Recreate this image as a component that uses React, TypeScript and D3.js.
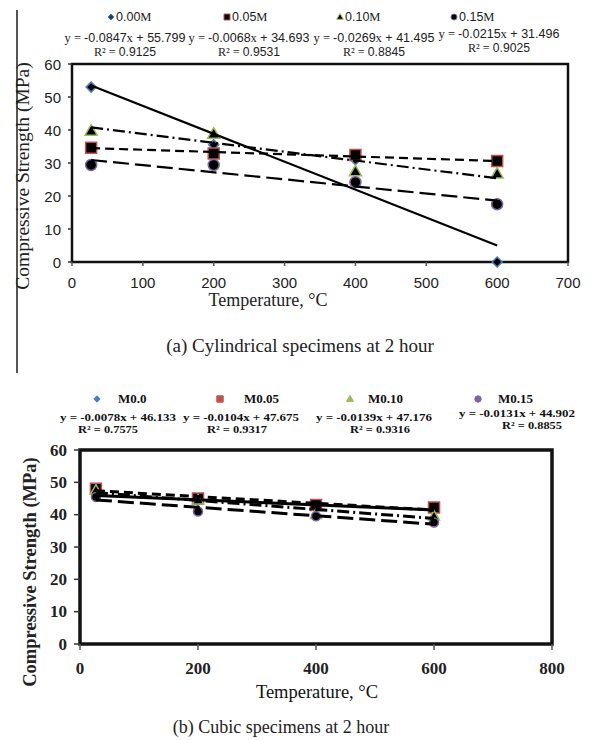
import React from "react";
import * as d3 from "d3";

// ---------- DATA ----------
const temps = [27, 200, 400, 600];

// (a) cylindrical
const topLabels = ["0.00M", "0.05M", "0.10M", "0.15M"];
const top000 = [53, 35.5, 31, 0];
const top005 = [34.6, 32.9, 32.4, 30.6];
const top010 = [39.7, 38.8, 27.4, 26.7];
const top015 = [29.4, 29.4, 24.2, 17.5];
const topSlopes = [-0.0847, -0.0068, -0.0269, -0.0215];
const topIntercepts = [55.799, 34.693, 41.495, 31.496];
const topR2 = ["0.9125", "0.9531", "0.8845", "0.9025"];
const topXTicks = [0, 100, 200, 300, 400, 500, 600, 700];
const topYTicks = [0, 10, 20, 30, 40, 50, 60];

// (b) cubic
const botLabels = ["M0.0", "M0.05", "M0.10", "M0.15"];
const bot000 = [46, 44, 42.5, 42.5];
const bot005 = [48, 45, 43, 42.2];
const bot010 = [47.5, 44.5, 40, 39.5];
const bot015 = [45.5, 41, 39.5, 37.6];
const botSlopes = [-0.0078, -0.0104, -0.0139, -0.0131];
const botIntercepts = [46.133, 47.675, 47.176, 44.902];
const botR2 = ["0.7575", "0.9317", "0.9316", "0.8855"];
const botXTicks = [0, 200, 400, 600, 800];
const botYTicks = [0, 10, 20, 30, 40, 50, 60];

const SANS = "'Liberation Sans', Arial, sans-serif";
const SERIF = "'Liberation Serif', 'Times New Roman', serif";

const markerTypes = ["diamond", "square", "triangle", "circle"];
const markerColors = ["#4a7ebb", "#c0504d", "#9bbb59", "#8064a2"];
const dashes = ["none", "9,5", "12,4,2,4", "16,6"];

function markerPath(type: string, s: number): string {
  const p = d3.path();
  if (type === "diamond") {
    p.moveTo(0, -s); p.lineTo(s, 0); p.lineTo(0, s); p.lineTo(-s, 0); p.closePath();
  } else if (type === "square") {
    p.rect(-s, -s, 2 * s, 2 * s);
  } else if (type === "triangle") {
    const h = s * 1.9;
    p.moveTo(0, -h * 0.6); p.lineTo(s * 1.1, h * 0.4); p.lineTo(-s * 1.1, h * 0.4); p.closePath();
  } else {
    p.arc(0, 0, s, 0, Math.PI * 2);
  }
  return p.toString();
}

type PanelProps = {
  series: number[][];
  slopes: number[];
  intercepts: number[];
  xTicks: number[];
  yTicks: number[];
  box: { l: number; r: number; t: number; b: number };
  xMax: number;
  bottom: boolean;
};

function Panel({ series, slopes, intercepts, xTicks, yTicks, box, xMax, bottom }: PanelProps) {
  const x = d3.scaleLinear().domain([0, xMax]).range([box.l, box.r]);
  const y = d3.scaleLinear().domain([0, 60]).range([box.b, box.t]);
  const tickFont = bottom ? SERIF : SANS;
  const tickSize = bottom ? 17 : 15;
  const msz = bottom ? [4, 5.5, 5, 4.5] : [5, 5.5, 5.5, 5.5];
  const lw = bottom ? 3 : 2.2;
  return (
    <g>
      <rect x={box.l} y={box.t} width={box.r - box.l} height={box.b - box.t} fill="none" stroke="#111" strokeWidth={bottom ? 3.5 : 2.5} />
      {yTicks.map((v) => (
        <g key={"y" + v}>
          <line x1={box.l - (bottom ? 6 : 4)} x2={box.l} y1={y(v)} y2={y(v)} stroke="#333" strokeWidth={1.5} />
          <text x={box.l - (bottom ? 13 : 11)} y={y(v) + 5.5} textAnchor="end" fontFamily={tickFont} fontSize={tickSize} fontWeight={bottom ? "bold" : "normal"} fill="#222">
            {v}
          </text>
        </g>
      ))}
      {xTicks.map((v) => (
        <g key={"x" + v}>
          <line x1={x(v)} x2={x(v)} y1={box.b} y2={box.b + (bottom ? 6 : 4)} stroke="#555" strokeWidth={1.5} />
          <text x={x(v)} y={box.b + (bottom ? 30 : 26)} textAnchor="middle" fontFamily={tickFont} fontSize={tickSize} fontWeight={bottom ? "bold" : "normal"} fill="#222">
            {v}
          </text>
        </g>
      ))}
      {series.map((vals, si) =>
        vals.map((v, i) => (
          <path
            key={"m" + si + "-" + i}
            d={markerPath(markerTypes[si], msz[si])}
            transform={`translate(${x(temps[i])},${y(v)})`}
            fill="#000"
            stroke={markerColors[si]}
            strokeWidth={1.5}
          />
        ))
      )}
      {slopes.map((s, si) => {
        const x0 = temps[0];
        const x1 = temps[temps.length - 1];
        return (
          <line
            key={"t" + si}
            x1={x(x0)}
            x2={x(x1)}
            y1={y(intercepts[si] + s * x0)}
            y2={y(intercepts[si] + s * x1)}
            stroke="#000"
            strokeWidth={lw}
            strokeDasharray={dashes[si]}
          />
        );
      })}
    </g>
  );
}

function fmt(v: number) {
  return v.toString();
}

export default function App() {
  const topSeries = [top000, top005, top010, top015];
  const botSeries = [bot000, bot005, bot010, bot015];

  const topLegendX = [111, 227, 340, 454];
  const topEqX = [125, 249, 374, 499];
  const topEqY = [42, 42, 42, 38];

  const botLegendX = [97, 220, 350, 478];
  const botLegendTextX = [118, 244, 368, 498];
  const botEqX = [118, 241, 374, 517];
  const botR2X = [108, 237, 380, 532];
  const botEqY = [421, 421, 421, 417];

  return (
    <svg width={590} height={740} style={{ position: "absolute", left: 0, top: 0, background: "#fff" }}>
      <rect x={0} y={0} width={590} height={740} fill="#fff" />
      <line x1={17} x2={17} y1={10} y2={373} stroke="#555" strokeWidth={2} />

      {/* top legend */}
      {topLabels.map((lab, i) => (
        <g key={"tl" + i}>
          <path d={markerPath(markerTypes[i], 3)} transform={`translate(${topLegendX[i]},17)`} fill={i === 0 ? "#1f3f6f" : "#000"} stroke={markerColors[i]} strokeWidth={1} />
          <text x={topLegendX[i] + 5} y={21} fontFamily={SANS} fontSize={12.5} fill="#222">
            {lab.slice(0, -1)}
            <tspan fontFamily={SERIF}>M</tspan>
          </text>
        </g>
      ))}
      {/* top equations */}
      {topSlopes.map((s, i) => (
        <g key={"te" + i}>
          <text x={topEqX[i]} y={topEqY[i]} textAnchor="middle" fontFamily={SANS} fontSize={12} fill="#222" textLength={121} lengthAdjust="spacingAndGlyphs">
            <tspan fontFamily={SERIF}>y = </tspan>
            {fmt(s)}
            <tspan fontFamily={SERIF}>x</tspan>
            {" + " + fmt(topIntercepts[i])}
          </text>
          <text x={topEqX[i]} y={topEqY[i] + 13.5} textAnchor="middle" fontFamily={SANS} fontSize={12} fill="#222" textLength={62} lengthAdjust="spacingAndGlyphs">
            <tspan fontFamily={SERIF}>R² = </tspan>
            {topR2[i]}
          </text>
        </g>
      ))}

      <Panel series={topSeries} slopes={topSlopes} intercepts={topIntercepts} xTicks={topXTicks} yTicks={topYTicks} box={{ l: 72, r: 568, t: 64, b: 262 }} xMax={700} bottom={false} />

      <text transform="translate(29,176) rotate(-90)" textAnchor="middle" fontFamily={SERIF} fontSize={19.5} fill="#222">
        Compressive Strength (MPa)
      </text>
      <text x={268} y={306} textAnchor="middle" fontFamily={SERIF} fontSize={18} fill="#222">
        Temperature, °C
      </text>
      <text x={300} y={352} textAnchor="middle" fontFamily={SERIF} fontSize={19} fill="#222">
        (a) Cylindrical specimens at 2 hour
      </text>

      {/* bottom legend */}
      {botLabels.map((lab, i) => (
        <g key={"bl" + i}>
          <path d={markerPath(markerTypes[i], 3.2)} transform={`translate(${botLegendX[i]},399)`} fill={markerColors[i]} stroke={markerColors[i]} strokeWidth={1} />
          <text x={botLegendTextX[i]} y={403} fontFamily={SERIF} fontWeight="bold" fontSize={13} fill="#111">
            {lab}
          </text>
        </g>
      ))}
      {botSlopes.map((s, i) => (
        <g key={"be" + i}>
          <text x={botEqX[i]} y={botEqY[i]} textAnchor="middle" fontFamily={SERIF} fontWeight="bold" fontSize={10.5} fill="#111" textLength={116} lengthAdjust="spacingAndGlyphs">
            {"y = " + fmt(s) + "x + " + fmt(botIntercepts[i])}
          </text>
          <text x={botR2X[i]} y={botEqY[i] + 12} textAnchor="middle" fontFamily={SERIF} fontWeight="bold" fontSize={10.5} fill="#111" textLength={60} lengthAdjust="spacingAndGlyphs">
            {"R² = " + botR2[i]}
          </text>
        </g>
      ))}

      <Panel series={botSeries} slopes={botSlopes} intercepts={botIntercepts} xTicks={botXTicks} yTicks={botYTicks} box={{ l: 80, r: 552, t: 450, b: 644 }} xMax={800} bottom={true} />

      <text transform="translate(36,572) rotate(-90)" textAnchor="middle" fontFamily={SERIF} fontWeight="bold" fontSize={18.5} fill="#222">
        Compressive Strength (MPa)
      </text>
      <text x={317} y={698} textAnchor="middle" fontFamily={SERIF} fontSize={18.5} fill="#111">
        Temperature, °C
      </text>
      <text x={281} y={733} textAnchor="middle" fontFamily={SERIF} fontSize={18} fill="#222">
        (b) Cubic specimens at 2 hour
      </text>
    </svg>
  );
}
